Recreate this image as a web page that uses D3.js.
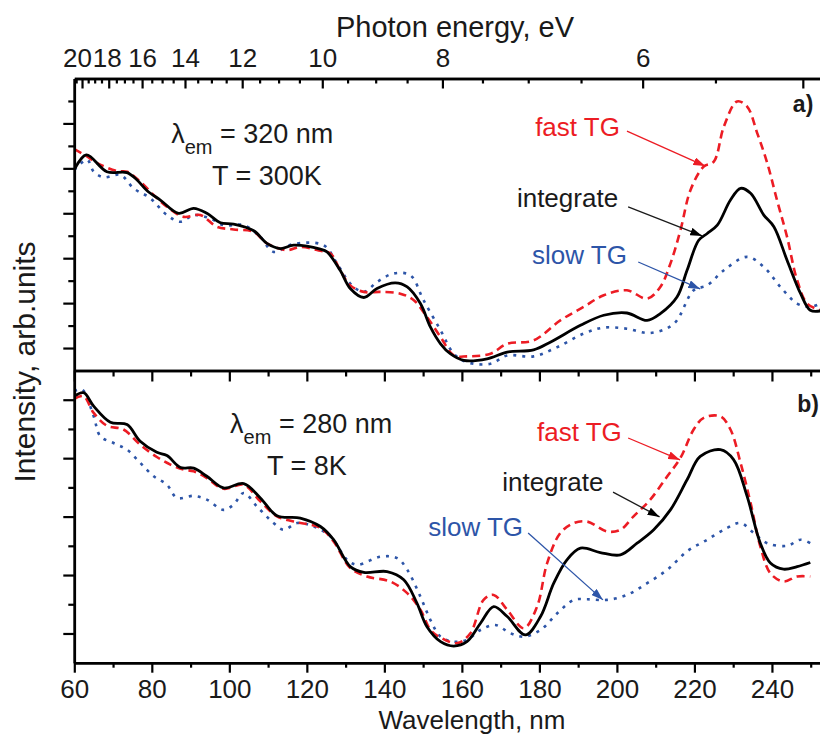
<!DOCTYPE html>
<html>
<head>
<meta charset="utf-8">
<script src="https://cdn.jsdelivr.net/npm/d3@7"></script>
<style>
  body { margin: 0; background: #fff; }
  svg { display: block; }
  text { font-family: "Liberation Sans", Arial, Helvetica, sans-serif; }
</style>
</head>
<body>
<div id="chart"></div>
<script>
// ---- data (wavelength nm, intensity arb. units) ----
// panel a) : lambda_em = 320 nm, T = 300 K
const aIntWl  = [60, 63.1, 68.4, 73.6, 76.2, 78.8, 82.2, 86.9, 90.8, 94.2, 97.7, 101.1, 106.3, 109.7, 113.2, 116.6, 123.5, 125.2, 128.6, 131.2, 134.7, 138.1, 142.8, 145.9, 149.3, 151.9, 154.5, 157.0, 160.5, 166.5, 171.7, 178.5, 182.8, 190.6, 196.6, 202.6, 207.8, 211.2, 215.5, 218.1, 221.1, 223.3, 225.9, 229.3, 231.9, 234.5, 237.9, 240.5, 243.9, 247.4, 249.9, 252.5];
const aIntVal = [8.93, 9.60, 8.85, 8.81, 8.48, 8.00, 7.59, 7.00, 7.22, 7.00, 6.58, 6.52, 6.22, 5.66, 5.43, 5.58, 5.40, 5.28, 4.46, 3.65, 3.25, 3.65, 3.90, 3.72, 2.98, 1.93, 1.19, 0.75, 0.45, 0.52, 0.82, 0.92, 1.26, 2.01, 2.46, 2.56, 2.23, 2.53, 3.27, 4.46, 5.80, 6.10, 6.47, 7.59, 8.11, 7.89, 6.92, 6.40, 4.91, 3.42, 2.68, 2.65];

const aFastWl  = [60, 63.1, 65.9, 71.0, 73.6, 77.0, 80.5, 83.9, 88.2, 92.5, 96.8, 101.1, 106.3, 109.7, 114.9, 118.3, 123.5, 126.1, 128.6, 131.2, 134.7, 139.0, 144.1, 147.6, 151.0, 154.5, 157.9, 161.3, 167.4, 171.7, 178.5, 185.4, 191.4, 196.6, 202.6, 207.8, 211.2, 213.8, 216.4, 219.0, 222.4, 225.0, 227.6, 231.0, 233.6, 236.2, 238.8, 241.3, 243.9, 246.5, 249.1, 252.5];
const aFastVal = [9.85, 9.55, 9.23, 8.88, 8.85, 8.41, 7.81, 7.29, 6.84, 6.92, 6.40, 6.28, 6.17, 5.66, 5.36, 5.50, 5.33, 5.21, 4.46, 3.79, 3.50, 3.50, 3.42, 3.13, 2.38, 1.49, 0.67, 0.63, 0.75, 1.19, 1.34, 2.23, 2.83, 3.35, 3.57, 3.20, 3.72, 4.76, 6.25, 8.04, 9.08, 9.30, 10.86, 11.98, 11.75, 10.57, 9.23, 7.59, 5.95, 4.02, 2.98, 2.68];

const aSlowWl  = [60, 63.3, 65.0, 67.6, 71.9, 75.3, 79.6, 83.9, 87.4, 90.8, 95.1, 98.5, 103.7, 108.0, 111.4, 116.6, 124.3, 127.8, 131.2, 134.7, 138.1, 142.4, 146.7, 150.1, 154.5, 157.9, 161.3, 167.4, 171.7, 178.5, 184.6, 191.4, 196.6, 202.6, 208.6, 214.7, 219.8, 223.3, 227.6, 233.6, 237.9, 242.2, 246.5, 249.9, 252.5];
const aSlowVal = [8.93, 9.38, 8.85, 8.60, 8.71, 8.11, 7.67, 6.92, 6.62, 6.92, 6.77, 6.47, 6.47, 5.95, 5.28, 5.63, 5.58, 4.76, 3.87, 3.50, 3.94, 4.32, 4.24, 3.13, 1.79, 0.75, 0.37, 0.30, 0.67, 0.63, 1.04, 1.64, 1.91, 1.86, 1.67, 2.08, 3.57, 3.79, 4.46, 5.06, 4.61, 3.72, 2.98, 2.83, 2.98];

// panel b) : lambda_em = 280 nm, T = 8 K
const bIntWl  = [60, 62.4, 65.0, 69.3, 73.6, 77.0, 81.3, 83.9, 87.4, 90.8, 94.2, 98.5, 103.7, 108.0, 112.3, 118.3, 123.5, 126.9, 131.2, 134.7, 140.7, 145.0, 148.4, 151.0, 154.5, 157.9, 161.3, 164.8, 168.2, 171.7, 176.4, 180.3, 183.7, 187.1, 190.6, 195.7, 200.9, 205.2, 209.5, 213.8, 218.1, 221.5, 226.7, 230.1, 233.6, 237.0, 239.6, 243.0, 246.5, 249.9];
const bIntVal = [9.12, 9.24, 8.78, 8.23, 8.15, 7.58, 7.20, 7.09, 6.68, 6.66, 6.38, 5.98, 6.13, 5.64, 5.03, 4.95, 4.66, 4.21, 3.29, 3.09, 3.12, 2.84, 2.04, 1.23, 0.72, 0.57, 0.72, 1.35, 1.92, 1.58, 0.95, 1.58, 2.72, 3.52, 3.92, 3.77, 3.69, 4.09, 4.55, 5.23, 6.26, 7.06, 7.29, 6.95, 5.69, 4.09, 3.41, 3.20, 3.29, 3.43];

const bFastWl  = [60, 62.4, 65.0, 68.4, 72.7, 77.0, 81.3, 84.8, 88.2, 90.8, 94.2, 98.5, 103.7, 108.0, 112.3, 116.6, 123.5, 126.9, 131.2, 135.5, 141.5, 145.9, 149.3, 151.9, 154.5, 158.8, 162.2, 165.6, 168.2, 171.7, 176.0, 179.4, 182.0, 185.4, 188.9, 192.3, 197.5, 200.9, 204.3, 208.6, 213.0, 216.4, 219.8, 222.4, 226.7, 229.3, 231.9, 234.5, 237.0, 239.6, 243.0, 246.5, 249.9];
const bFastVal = [9.03, 9.12, 8.55, 8.11, 7.98, 7.46, 7.04, 6.78, 6.61, 6.55, 6.32, 5.95, 6.09, 5.52, 5.01, 4.83, 4.61, 4.15, 3.24, 2.95, 2.78, 2.38, 1.81, 1.12, 0.86, 0.67, 1.01, 2.15, 2.32, 1.81, 1.18, 1.92, 3.41, 4.44, 4.78, 4.83, 4.49, 4.55, 5.01, 5.58, 6.38, 7.01, 7.98, 8.38, 8.43, 7.98, 6.84, 5.46, 3.98, 3.06, 2.78, 2.95, 2.95];

const bSlowWl  = [60, 62.0, 65.0, 66.7, 70.1, 73.6, 77.0, 80.5, 83.9, 86.5, 90.8, 94.2, 98.5, 101.1, 103.7, 107.1, 111.4, 114.0, 117.5, 121.8, 126.1, 130.4, 133.0, 139.0, 143.3, 145.9, 149.3, 151.9, 154.5, 157.9, 161.3, 164.8, 168.6, 172.5, 176.0, 180.3, 184.6, 188.9, 192.3, 197.5, 202.6, 207.8, 213.0, 218.1, 223.3, 228.4, 231.9, 235.3, 238.8, 243.9, 247.4, 249.9];
const bSlowVal = [9.29, 9.35, 8.43, 7.75, 7.52, 7.29, 6.84, 6.38, 6.09, 5.64, 5.71, 5.58, 5.23, 5.41, 5.81, 5.35, 4.78, 4.55, 4.78, 4.66, 4.32, 3.52, 3.35, 3.63, 3.58, 3.18, 2.26, 1.46, 0.89, 0.72, 0.78, 1.12, 1.29, 1.01, 0.89, 1.12, 1.69, 2.15, 2.17, 2.15, 2.32, 2.72, 3.18, 3.81, 4.21, 4.61, 4.78, 4.44, 4.09, 4.00, 4.21, 4.09];

// axis ticks
const wlMajor = [60, 80, 100, 120, 140, 160, 180, 200, 220, 240];
const wlMinor = [70, 90, 110, 130, 150, 170, 190, 210, 230, 250];
const evMajor = [20, 18, 16, 14, 12, 10, 8, 6, 5];
const evLabels = ["20", "18", "16", "14", "12", "10", "8", "6", ""];
const evMinor = [20.5, 19.5, 19, 18.5, 17.5, 17, 16.5, 15.5, 15, 14.5, 13.5, 13, 12.5, 11.5, 11, 10.5, 9.5, 9, 8.5, 7.5, 7, 6.5, 5.5];
const aMajor = [1, 3, 5, 7, 9, 11], aMinor = [2, 4, 6, 8, 10, 12];
const bMajor = [1, 3, 5, 7, 9], bMinor = [2, 4, 6, 8];

const hc = 1239.84; // eV*nm

const red = "#ec1c24", blue = "#2d55a8";

const W = 820, H = 734;
const left = 74.3, right = 820;
const aTop = 78.5, mid = 370.5, bBot = 662.7;

const x = d3.scaleLinear().domain([60, 252.4]).range([left, right]);
const ya = d3.scaleLinear().domain([0, 13]).range([mid, aTop]);
const yb = d3.scaleLinear().domain([0, 10]).range([bBot, mid]);

const svg = d3.select("#chart").append("svg")
  .attr("width", W).attr("height", H);

const defs = svg.append("defs");
[["k", "#000"], ["r", red], ["b", blue]].forEach(([id, c]) => {
  defs.append("marker")
    .attr("id", "arrow-" + id)
    .attr("viewBox", "0 0 12 8")
    .attr("refX", 12).attr("refY", 4)
    .attr("markerWidth", 12).attr("markerHeight", 8)
    .attr("markerUnits", "userSpaceOnUse")
    .attr("orient", "auto")
    .append("path").attr("d", "M0,0 L12,4 L0,8 Z").attr("fill", c);
});
defs.append("clipPath").attr("id", "clipA").append("rect")
  .attr("x", left).attr("y", aTop).attr("width", right - left).attr("height", mid - aTop);
defs.append("clipPath").attr("id", "clipB").append("rect")
  .attr("x", left).attr("y", mid).attr("width", right - left).attr("height", bBot - mid);

// ---- curves ----
function drawSeries(g, y, wl, val, color, dash) {
  const pts = wl.map((w, i) => [w, val[i]]);
  const line = d3.line()
    .x(d => x(d[0])).y(d => y(d[1]))
    .curve(d3.curveCatmullRom.alpha(0.5));
  g.append("path").datum(pts)
    .attr("d", line)
    .attr("fill", "none")
    .attr("stroke", color)
    .attr("stroke-width", dash ? 2.6 : 2.8)
    .attr("stroke-dasharray", dash || null)
    .attr("stroke-linejoin", "round");
}

const gA = svg.append("g").attr("clip-path", "url(#clipA)");
drawSeries(gA, ya, aSlowWl, aSlowVal, blue, "3,6");
drawSeries(gA, ya, aFastWl, aFastVal, red, "8,5");
drawSeries(gA, ya, aIntWl, aIntVal, "#000", null);

const gB = svg.append("g").attr("clip-path", "url(#clipB)");
drawSeries(gB, yb, bSlowWl, bSlowVal, blue, "3,6");
drawSeries(gB, yb, bFastWl, bFastVal, red, "8,5");
drawSeries(gB, yb, bIntWl, bIntVal, "#000", null);

// ---- axes ----
function styleAxis(g) {
  g.selectAll("path.domain").attr("stroke", "#000").attr("stroke-width", 2.5);
  g.selectAll(".tick line").attr("stroke", "#000").attr("stroke-width", 2.2);
  g.selectAll(".tick text").attr("font-size", 26).attr("fill", "#1a1a1a")
    .style("font-family", '"Liberation Sans", Arial, sans-serif');
}

// top energy axis (ticks pointing inward)
const topMinor = svg.append("g").attr("transform", `translate(0,${aTop})`)
  .call(d3.axisTop(x).tickValues(evMinor.map(e => hc / e)).tickSizeInner(-5).tickSizeOuter(0).tickFormat(""));
styleAxis(topMinor);
const topMajor = svg.append("g").attr("transform", `translate(0,${aTop})`)
  .call(d3.axisTop(x).tickValues(evMajor.map(e => hc / e)).tickSizeInner(-10).tickSizeOuter(0).tickPadding(11.5)
    .tickFormat((d, i) => evLabels[i]));
styleAxis(topMajor);
topMajor.selectAll(".tick text").filter((d, i) => i === 0).attr("dx", -5);
topMajor.selectAll(".tick text").filter((d, i) => i === 1).attr("dx", -2);

// middle axis (panel a bottom / panel b top), ticks into panel b
const midMinor = svg.append("g").attr("transform", `translate(0,${mid})`)
  .call(d3.axisTop(x).tickValues(wlMinor).tickSizeInner(-6).tickSizeOuter(0).tickFormat(""));
styleAxis(midMinor);
const midMajor = svg.append("g").attr("transform", `translate(0,${mid})`)
  .call(d3.axisTop(x).tickValues(wlMajor).tickSizeInner(-11).tickSizeOuter(0).tickFormat(""));
styleAxis(midMajor);

// bottom wavelength axis (ticks outward)
const botMinor = svg.append("g").attr("transform", `translate(0,${bBot})`)
  .call(d3.axisBottom(x).tickValues(wlMinor).tickSizeInner(5).tickSizeOuter(0).tickFormat(""));
styleAxis(botMinor);
const botMajor = svg.append("g").attr("transform", `translate(0,${bBot})`)
  .call(d3.axisBottom(x).tickValues(wlMajor).tickSizeInner(10).tickSizeOuter(0).tickPadding(7));
styleAxis(botMajor);

// left axes (no labels, ticks outward)
function leftAxis(y, major, minor) {
  const gm = svg.append("g").attr("transform", `translate(${left},0)`)
    .call(d3.axisLeft(y).tickValues(minor).tickSizeInner(6).tickSizeOuter(0).tickFormat(""));
  styleAxis(gm);
  const gM = svg.append("g").attr("transform", `translate(${left},0)`)
    .call(d3.axisLeft(y).tickValues(major).tickSizeInner(11).tickSizeOuter(0).tickFormat(""));
  styleAxis(gM);
}
leftAxis(ya, aMajor, aMinor);
leftAxis(yb, bMajor, bMinor);

// ---- axis titles ----
svg.append("text").attr("x", 455).attr("y", 37).attr("text-anchor", "middle")
  .attr("font-size", 29).attr("fill", "#1a1a1a").text("Photon energy, eV");
svg.append("text").attr("x", 472).attr("y", 729).attr("text-anchor", "middle")
  .attr("font-size", 26).attr("fill", "#1a1a1a").text("Wavelength, nm");
svg.append("text").attr("transform", "translate(35,362) rotate(-90)").attr("text-anchor", "middle")
  .attr("font-size", 30).attr("fill", "#1a1a1a").text("Intensity, arb.units");

// ---- annotations (positions in data units) ----
const panels = [
  { y: ya, tag: "a)", tagAt: [245.4, 11.51], em: "320 nm", emAt: [85.0, 10.13], temp: "T = 300K", tAt: [95.5, 8.26],
    labels: [
      { t: "fast TG", c: red, at: [178.9, 10.44], from: [202.6, 10.66], to: [222.8, 9.10], m: "r" },
      { t: "integrate", c: "#1a1a1a", at: [174.2, 7.28], from: [202.9, 7.28], to: [222.0, 5.99], m: "k" },
      { t: "slow TG", c: blue, at: [178.1, 4.74], from: [205.5, 4.83], to: [221.5, 3.63], m: "b" }
    ] },
  { y: yb, tag: "b)", tagAt: [246.5, 8.58], em: "280 nm", emAt: [100.2, 7.86], temp: "T = 8K", tAt: [109.7, 6.42],
    labels: [
      { t: "fast TG", c: red, at: [179.4, 7.59], from: [202.9, 7.69], to: [216.3, 6.94], m: "r" },
      { t: "integrate", c: "#1a1a1a", at: [170.4, 5.88], from: [199.0, 5.84], to: [211.0, 4.99], m: "k" },
      { t: "slow TG", c: blue, at: [151.3, 4.34], from: [177.1, 4.44], to: [196.4, 2.15], m: "b" }
    ] }
];

panels.forEach(p => {
  svg.append("text").attr("x", x(p.tagAt[0])).attr("y", p.y(p.tagAt[1]))
    .attr("font-size", 23).attr("font-weight", "bold").attr("fill", "#1a1a1a").text(p.tag);

  const em = svg.append("text").attr("x", x(p.emAt[0])).attr("y", p.y(p.emAt[1]))
    .attr("font-size", 27).attr("fill", "#1a1a1a");
  em.append("tspan").text("λ");
  em.append("tspan").attr("font-size", 20).attr("dy", 11).text("em");
  em.append("tspan").attr("dy", -11).text(" = " + p.em);

  svg.append("text").attr("x", x(p.tAt[0])).attr("y", p.y(p.tAt[1]))
    .attr("font-size", 27).attr("fill", "#1a1a1a").text(p.temp);

  p.labels.forEach(l => {
    svg.append("text").attr("x", x(l.at[0])).attr("y", p.y(l.at[1]))
      .attr("font-size", 26).attr("fill", l.c).text(l.t);
    svg.append("line")
      .attr("x1", x(l.from[0])).attr("y1", p.y(l.from[1]))
      .attr("x2", x(l.to[0])).attr("y2", p.y(l.to[1]))
      .attr("stroke", l.c).attr("stroke-width", 1.3)
      .attr("marker-end", `url(#arrow-${l.m})`);
  });
});
</script>
</body>
</html>
